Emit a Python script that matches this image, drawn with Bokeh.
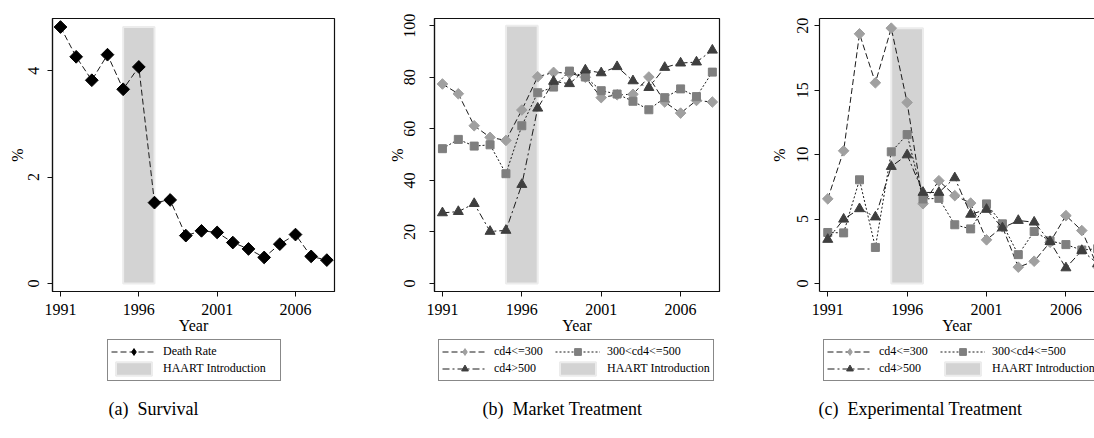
import numpy as np
from bokeh.plotting import figure
from bokeh.models import Range1d, FixedTicker, Legend, LegendItem, Label, LinearAxis
from bokeh.layouts import row, column
from bokeh.embed import file_html
from bokeh.resources import INLINE

# ---- data -------------------------------------------------------------
years = list(range(1991, 2009))
x_ticks = [1991, 1996, 2001, 2006]

death_rate = [4.82, 4.26, 3.82, 4.30, 3.65, 4.07, 1.52, 1.57, 0.90, 0.99,
              0.96, 0.77, 0.65, 0.49, 0.74, 0.92, 0.51, 0.44]

market_cd4_low = [77.4, 73.6, 61.2, 56.7, 55.5, 67.3, 80.2, 81.9, 81.6, 80.0,
                  72.1, 73.2, 73.4, 80.1, 70.4, 66.1, 71.0, 70.4]
market_cd4_mid = [52.3, 55.9, 53.3, 53.8, 42.6, 61.2, 74.0, 76.2, 82.4, 80.1,
                  74.8, 73.5, 70.7, 67.4, 72.1, 75.5, 72.5, 82.0]
market_cd4_high = [27.4, 27.9, 31.0, 20.2, 20.6, 38.4, 68.0, 78.4, 77.5, 82.8,
                   81.7, 84.1, 78.6, 76.0, 83.8, 85.5, 85.9, 90.5]

exper_cd4_low = [6.57, 10.30, 19.38, 15.58, 19.82, 14.05, 6.19, 7.98, 6.82, 6.24,
                 3.39, 4.40, 1.27, 1.73, 3.20, 5.27, 4.11, 1.30]
exper_cd4_mid = [3.96, 3.93, 8.05, 2.80, 10.22, 11.56, 6.56, 6.61, 4.56, 4.24,
                 6.18, 4.63, 2.24, 4.04, 3.31, 3.02, 2.60, 2.70]
exper_cd4_high = [3.42, 4.99, 5.80, 5.16, 9.08, 9.98, 7.07, 7.07, 8.20, 5.37,
                  5.75, 4.31, 4.89, 4.76, 3.25, 1.21, 2.56, 1.55]

haart_start, haart_end = 1995, 1997
haart_top = [4.82, 100, 19.82]

series_labels = ["cd4<=300", "300<cd4<=500", "cd4>500"]
captions = ["(a)\u2002Survival", "(b)\u2002Market Treatment",
            "(c)\u2002Experimental Treatment"]

# ---- styling ------------------------------------------------------------
FONT = "Liberation Serif"
LINE = "#1a1a1a"
BAND_FILL = "#d3d3d3"
BAND_EDGE = "#ececec"
FRAME = "#111111"

# (dash, marker, size, colour, angle); diamonds are squares turned by 45 degrees
STYLE_DEATH = ("6 3", "square", 9, "black", np.pi / 4)
STYLE_LOW = ("6 3", "square", 7.5, "#a0a0a0", np.pi / 4)
STYLE_MID = ("2 2", "square", 8, "#7f7f7f", 0.0)
STYLE_HIGH = ("7 3 2 3", "triangle", 10, "#3f3f3f", 0.0)

TOP_H = 338


def make_panel(width, border_left, border_right, x_rng, y_rng, y_ticks,
               ylab_standoff, ylabel_standoff, framed=True):
    p = figure(width=width, height=TOP_H, output_backend="svg", toolbar_location=None,
               x_range=Range1d(*x_rng), y_range=Range1d(*y_rng),
               min_border_left=border_left, min_border_right=border_right,
               min_border_top=18, min_border_bottom=TOP_H - 291)
    p.background_fill_color = "white"
    p.border_fill_color = "white"
    p.xgrid.visible = False
    p.ygrid.visible = False

    xax = p.below[0]
    yax = p.left[0]
    for ax in (xax, yax):
        ax.axis_line_color = FRAME
        ax.axis_line_width = 1.2
        ax.major_tick_line_color = FRAME
        ax.major_tick_out = 5
        ax.major_tick_in = 0
        ax.minor_tick_line_color = None
        ax.major_label_text_font = FONT
        ax.major_label_text_font_size = "16px"
        ax.major_label_text_color = "black"
        ax.axis_label_text_font = FONT
        ax.axis_label_text_font_size = "16px"
        ax.axis_label_text_font_style = "normal"
        ax.axis_label_text_color = "black"

    xax.ticker = FixedTicker(ticks=x_ticks)
    xax.axis_label = "Year"
    xax.major_label_standoff = 7
    xax.axis_label_standoff = -1

    yax.ticker = FixedTicker(ticks=y_ticks)
    yax.axis_label = "%"
    yax.major_label_orientation = "vertical"
    yax.major_label_standoff = ylab_standoff
    yax.axis_label_standoff = ylabel_standoff

    if framed:
        p.outline_line_color = FRAME
        p.outline_line_width = 1.2
    else:
        p.outline_line_color = None
        top = LinearAxis(ticker=FixedTicker(ticks=[]), axis_line_color=FRAME,
                         axis_line_width=1.2, major_label_text_font_size="0px",
                         major_tick_line_color=None, minor_tick_line_color=None)
        p.add_layout(top, "above")
    return p


def add_band(p, top):
    return p.quad(left=[haart_start], right=[haart_end], bottom=[0], top=[top],
                  fill_color=BAND_FILL, line_color=BAND_EDGE, line_width=2)


def add_series(p, values, style):
    dash, marker, size, fill, angle = style
    ln = p.line(years, values, line_color=LINE, line_width=1, line_dash=dash)
    mk = p.scatter(years, values, marker=marker, size=size, angle=angle,
                   fill_color=fill, line_color=fill)
    return [ln, mk]


# ---- (a) survival -------------------------------------------------------
p1 = make_panel(364, 52, 30, (1990.49, 2008.49), (-0.15, 4.98), [0, 2, 4], 8, 0)
add_band(p1, haart_top[0])
add_series(p1, death_rate, STYLE_DEATH)

# ---- (b) market treatment -----------------------------------------------
p2 = make_panel(385, 70, 30, (1990.5, 2008.45), (-3.1, 102.8),
                [0, 20, 40, 60, 80, 100], 14, -4)
add_band(p2, haart_top[1])
add_series(p2, market_cd4_low, STYLE_LOW)
add_series(p2, market_cd4_mid, STYLE_MID)
add_series(p2, market_cd4_high, STYLE_HIGH)

# ---- (c) experimental treatment -----------------------------------------
p3 = make_panel(345, 70, 0, (1990.48, 2007.8), (-0.62, 20.57),
                [0, 5, 10, 15, 20], 6, 7, framed=False)
add_band(p3, haart_top[2])
add_series(p3, exper_cd4_low, STYLE_LOW)
add_series(p3, exper_cd4_mid, STYLE_MID)
add_series(p3, exper_cd4_high, STYLE_HIGH)

# ---- legends and captions strip -----------------------------------------
BOT_H = 438 - TOP_H
strip = figure(width=1094, height=BOT_H, output_backend="svg", toolbar_location=None,
               x_range=Range1d(0, 1094), y_range=Range1d(0, BOT_H),
               x_axis_type=None, y_axis_type=None, min_border=0)
strip.outline_line_color = None
strip.xgrid.visible = False
strip.ygrid.visible = False
strip.background_fill_color = "white"
strip.border_fill_color = "white"

# legend keys: renderers holding a single missing value, so only the key is drawn
NA = [float("nan")]


def key_series(style):
    dash, marker, size, fill, angle = style
    if angle:
        marker = "diamond"   # legend keys are drawn unrotated
    ln = strip.line(x=NA, y=NA, line_color=LINE, line_width=1, line_dash=dash)
    mk = strip.scatter(x=NA, y=NA, marker=marker, size=size,
                       fill_color=fill, line_color=fill)
    return [ln, mk]


def key_band():
    return [strip.quad(left=NA, right=NA, bottom=NA, top=NA,
                       fill_color=BAND_FILL, line_color=BAND_EDGE, line_width=2)]


def add_legend(items, ncols, x_left, label_width):
    leg = Legend(items=items, location=(x_left, BOT_H - 43), orientation="horizontal",
                 ncols=ncols, glyph_width=45, glyph_height=17, label_height=17,
                 label_width=label_width, label_standoff=7, spacing=0, padding=3,
                 margin=0, border_line_color=FRAME, border_line_width=1.2,
                 label_text_font=FONT, label_text_font_size="12px",
                 label_text_color="black", background_fill_color="white")
    strip.add_layout(leg, "center")


add_legend([LegendItem(label="Death Rate", renderers=key_series(STYLE_DEATH)),
            LegendItem(label="HAART Introduction", renderers=key_band())], 1, 107, 114)

for x_left in (438, 823):
    add_legend([LegendItem(label=series_labels[0], renderers=key_series(STYLE_LOW)),
                LegendItem(label=series_labels[1], renderers=key_series(STYLE_MID)),
                LegendItem(label=series_labels[2], renderers=key_series(STYLE_HIGH)),
                LegendItem(label="HAART Introduction", renderers=key_band())],
               2, x_left, 61)

for text, x_left in zip(captions, (108, 482, 818)):
    strip.add_layout(Label(x=x_left, y=BOT_H - 70, x_units="screen", y_units="screen",
                           text=text, text_font=FONT, text_font_size="18px",
                           text_color="black", text_baseline="alphabetic"))

layout = column(row(p1, p2, p3), strip)
open("out.html", "w").write(file_html(layout, INLINE))
